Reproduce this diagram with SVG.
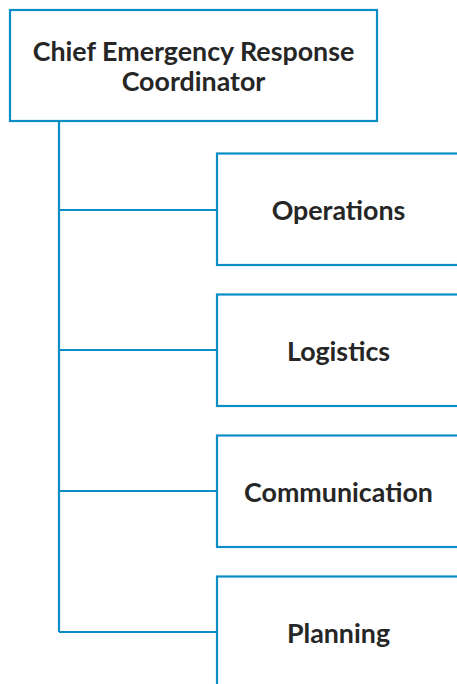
<svg xmlns="http://www.w3.org/2000/svg" width="457" height="684" viewBox="0 0 457 684">
  <style>
    .box { fill: #ffffff; stroke: #0b8dc6; stroke-width: 2.2; }
    .link { fill: none; stroke: #0b8dc6; stroke-width: 2.2; }
    .label { font-family: Lato, "Open Sans", sans-serif; font-weight: 700; font-size: 26.8px; fill: #262626; text-anchor: middle; }
  </style>
  <rect width="457" height="684" fill="#ffffff"/>
  <g id="connectors">
    <path class="link" d="M59 121 V632"/>
    <path class="link" d="M59 210 H217"/>
    <path class="link" d="M59 350 H217"/>
    <path class="link" d="M59 491 H217"/>
    <path class="link" d="M59 632 H217"/>
  </g>
  <g id="chief">
    <rect class="box" x="10" y="10" width="367" height="111"/>
    <text class="label" x="193.5" y="60.5">Chief Emergency Response</text>
    <text class="label" x="193.5" y="90.5">Coordinator</text>
  </g>
  <g id="operations">
    <rect class="box" x="217" y="153.5" width="244" height="111.5"/>
    <text class="label" x="338.5" y="219.5">Operations</text>
  </g>
  <g id="logistics">
    <rect class="box" x="217" y="294.5" width="244" height="111.5"/>
    <text class="label" x="338.5" y="360.5">Logistics</text>
  </g>
  <g id="communication">
    <rect class="box" x="217" y="435.5" width="244" height="111.5"/>
    <text class="label" x="338.5" y="501.5">Communication</text>
  </g>
  <g id="planning">
    <rect class="box" x="217" y="576.5" width="244" height="111.5"/>
    <text class="label" x="338.5" y="642.5">Planning</text>
  </g>
</svg>
